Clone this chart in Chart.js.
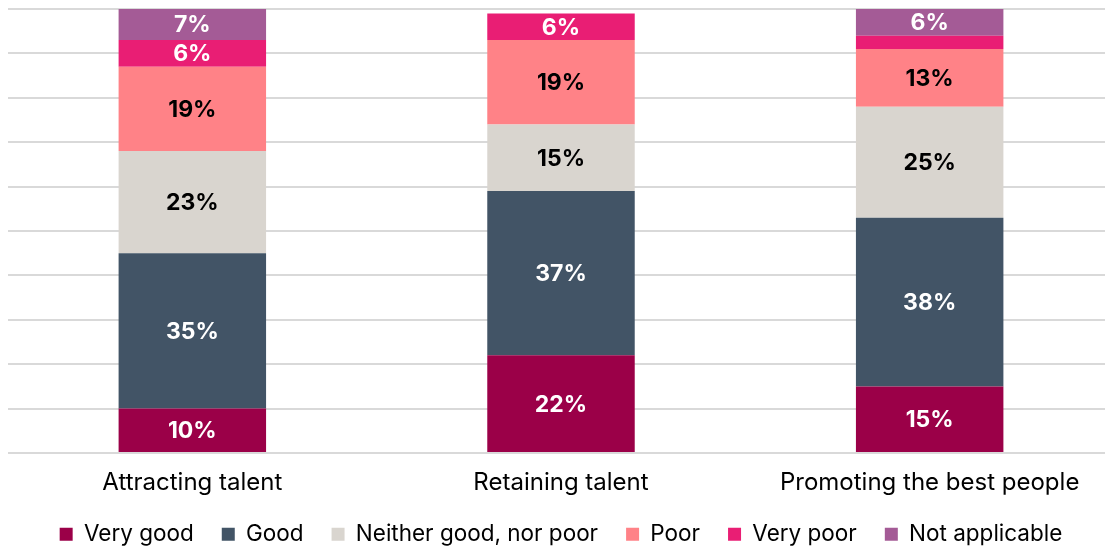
<!DOCTYPE html>
<html><head><meta charset="utf-8">
<script src="https://cdn.jsdelivr.net/npm/chart.js@4/dist/chart.umd.min.js"></script>
<style>html,body{margin:0;padding:0;background:#fff;overflow:hidden}#wrap{width:1114px;height:550px}</style>
</head><body><div id="wrap"><canvas id="c"></canvas></div>
<script>
const categories = ["Attracting talent", "Retaining talent", "Promoting the best people"];
const seriesNames = ["Very good", "Good", "Neither good, nor poor", "Poor", "Very poor", "Not applicable"];
const veryGood = [10, 22, 15];
const good = [35, 37, 38];
const neither = [23, 15, 25];
const poor = [19, 19, 13];
const veryPoor = [6, 6, 3];
const notApplicable = [7, 0, 6];
const showLabel = [[true,true,true],[true,true,true],[true,true,true],[true,true,true],[true,true,false],[true,false,true]];
const colors = ["#9B0048", "#425466", "#D9D5CF", "#FF8287", "#E91E74", "#A45B96"];
const labelColors = ["#fff", "#fff", "#000", "#000", "#fff", "#fff"];
const seriesValues = [veryGood, good, neither, poor, veryPoor, notApplicable];

const FONT = "Inter, Roboto, sans-serif";

const labelPlugin = {
  id: 'segLabels',
  afterDatasetsDraw(chart) {
    const ctx = chart.ctx;
    ctx.save();
    ctx.font = "bold 23px " + FONT;
    ctx.textAlign = 'center';
    ctx.textBaseline = 'middle';
    chart.data.datasets.forEach((ds, di) => {
      const meta = chart.getDatasetMeta(di);
      meta.data.forEach((bar, i) => {
        const v = ds.data[i];
        if (!v || !showLabel[di][i]) return;
        ctx.fillStyle = labelColors[di];
        ctx.fillText(v + '%', bar.x, (bar.y + bar.base) / 2 + 1);
      });
    });
    ctx.restore();
  }
};

const legendFit = {
  id: 'legendFit',
  beforeLayout(chart) {
    const lg = chart.legend;
    if (lg && !lg._patched) {
      const orig = lg.fit;
      lg.fit = function () { orig.call(this); this.height = 55; };
      lg._patched = true;
    }
  }
};

new Chart(document.getElementById('c'), {
  type: 'bar',
  data: {
    labels: categories,
    datasets: seriesNames.map((n, i) => ({
      label: n,
      data: seriesValues[i],
      backgroundColor: colors[i],
      barPercentage: 0.4,
      categoryPercentage: 1
    }))
  },
  options: {
    responsive: true,
    maintainAspectRatio: false,
    animation: false,
    layout: { padding: { left: 8, right: 0, top: 9, bottom: 0 } },
    scales: {
      x: {
        stacked: true,
        grid: { display: false },
        border: { display: false },
        ticks: { color: '#000', font: { family: FONT, size: 24 }, padding: 7 },
        afterFit: (s) => { s.height = 42; s._computeLabelArea = () => undefined; }
      },
      y: {
        stacked: true,
        min: 0, max: 100,
        ticks: { display: false, stepSize: 10 },
        grid: { color: '#D9D9D9', lineWidth: 2, drawTicks: false },
        border: { display: false }
      }
    },
    plugins: {
      legend: {
        position: 'bottom',
        labels: { color: '#000', font: { family: FONT, size: 22.5 }, boxWidth: 13, boxHeight: 13, padding: 28 }
      },
      tooltip: { enabled: false }
    }
  },
  plugins: [labelPlugin, legendFit]
});
</script>
</body></html>
